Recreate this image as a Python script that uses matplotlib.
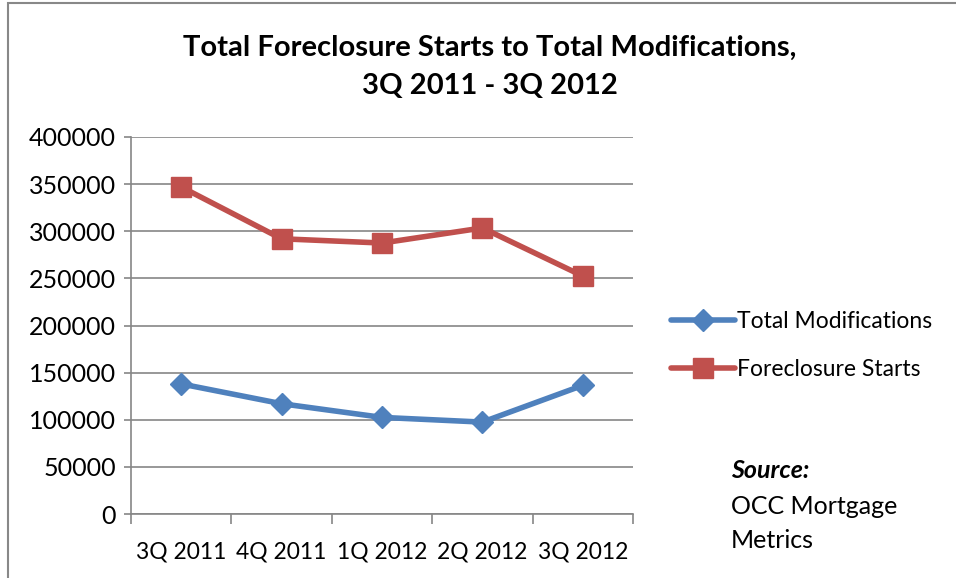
import matplotlib
matplotlib.use("Agg")
import matplotlib.pyplot as plt
from matplotlib.patches import Rectangle

# data
quarters = ["3Q 2011", "4Q 2011", "1Q 2012", "2Q 2012", "3Q 2012"]
modifications = [138000, 117000, 102500, 97500, 136500]
foreclosure_starts = [347000, 292000, 287500, 303500, 252500]

blue = "#4F81BD"
red = "#C0504D"
grid_col = "#868686"

plt.rcParams['font.family'] = ['Lato', 'DejaVu Sans']

fig = plt.figure(figsize=(9.56, 5.78), dpi=100)
ax = fig.add_axes([131 / 956, 64 / 578, 502 / 956, 377 / 578])

x = list(range(len(quarters)))
ax.plot(x, modifications, color=blue, lw=4, marker="D", ms=11,
        label="Total Modifications", solid_capstyle="round")
ax.plot(x, foreclosure_starts, color=red, lw=4, marker="s", ms=14,
        label="Foreclosure Starts", solid_capstyle="round")

ax.set_xlim(-0.5, len(quarters) - 0.5)
ax.set_ylim(0, 400000)
ax.set_yticks(range(0, 400001, 50000))
ax.yaxis.grid(True, color=grid_col, lw=1.2)
ax.set_axisbelow(True)

ax.set_xticks(x)
ax.set_xticklabels(quarters)
ax.set_xticks([i - 0.5 for i in range(len(quarters) + 1)], minor=True)
ax.tick_params(axis="x", which="major", length=0, pad=20, labelsize=16.5)
ax.tick_params(axis="x", which="minor", length=7, width=1.2, color=grid_col)
ax.tick_params(axis="y", length=5, width=1.2, color=grid_col, pad=6,
               labelsize=18)

for side in ["top", "right"]:
    ax.spines[side].set_visible(False)
for side in ["left", "bottom"]:
    ax.spines[side].set_color(grid_col)
    ax.spines[side].set_linewidth(1.2)

fig.text(490 / 956, 1 - 48 / 578, "Total Foreclosure Starts to Total Modifications,",
         ha="center", va="center", fontsize=21, fontweight="bold")
fig.text(490 / 956, 1 - 86 / 578, "3Q 2011 - 3Q 2012",
         ha="center", va="center", fontsize=21, fontweight="bold")

fig.legend(loc="upper left", bbox_to_anchor=(650 / 956, 1 - 290 / 578),
           frameon=False, fontsize=16.5, handlelength=2.8, handletextpad=0.1,
           labelspacing=1.2)

fig.text(731 / 956, 1 - 470 / 578, "Source:", fontsize=18, fontweight="bold",
         fontstyle="italic", va="center")
fig.text(731 / 956, 1 - 507 / 578, "OCC Mortgage", fontsize=18, va="center")
fig.text(731 / 956, 1 - 541 / 578, "Metrics", fontsize=18, va="center")

fig.patches.append(Rectangle((8 / 956, -0.1), 1.2, 1 - 3 / 578 + 0.1,
                             transform=fig.transFigure, fill=False,
                             edgecolor="#888888", lw=1.5))

fig.savefig("out.png", dpi=100)
